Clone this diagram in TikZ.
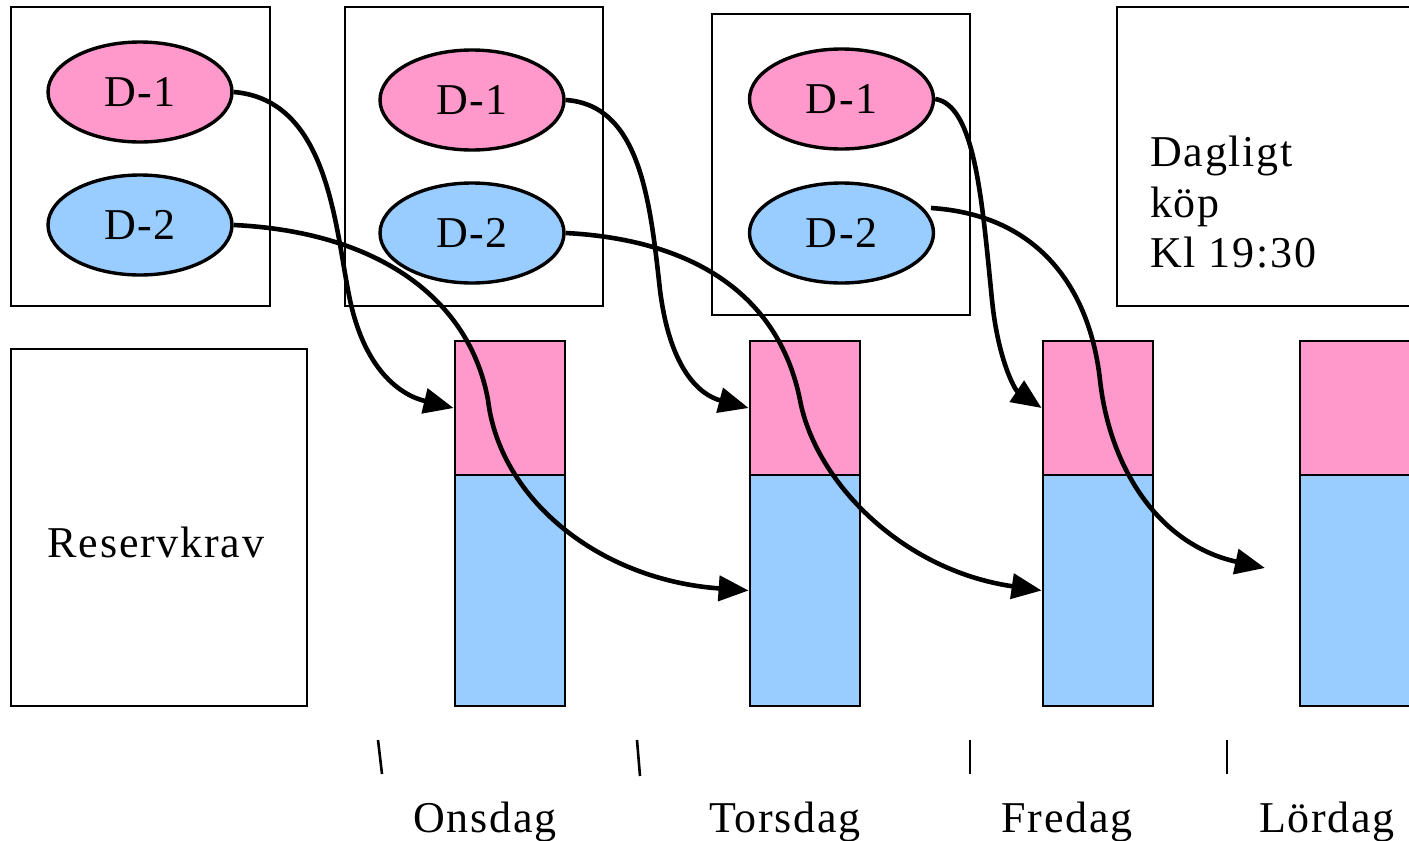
\documentclass[tikz,border=0pt]{standalone}
\usepackage{fontspec}
\setmainfont{Liberation Serif}[LetterSpace=4]
\usetikzlibrary{arrows.meta,shapes.geometric}
\definecolor{pinkf}{HTML}{FF99CC}
\definecolor{bluef}{HTML}{99CCFF}
\begin{document}
\begin{tikzpicture}[x=1pt,y=-1pt,
  lbl/.style={font=\fontsize{44}{50.5}\selectfont},
  frame/.style={draw,line width=2.8pt,inner sep=0},
  ell/.style={ellipse,draw,line width=3.4pt,minimum width=184pt,minimum height=100pt,inner sep=0,lbl},
  dA/.style={ell,fill=pinkf},
  dB/.style={ell,fill=bluef},
  barp/.style={draw,line width=2.8pt,fill=pinkf,minimum width=110pt,minimum height=134pt,inner sep=0},
  barb/.style={draw,line width=2.8pt,fill=bluef,minimum width=110pt,minimum height=231pt,inner sep=0},
  conn/.style={line width=4.6pt,-{Triangle[length=30pt,width=25pt]}},
  tick/.style={line width=2.6pt}
]
\useasboundingbox (0,0) rectangle (1409,841);
% day frames
\node[frame,minimum width=259pt,minimum height=299pt] (f1) at (140.5,156.5) {};
\node[frame,minimum width=258pt,minimum height=299pt] (f2) at (474,156.5) {};
\node[frame,minimum width=258pt,minimum height=301pt] (f3) at (841,164.5) {};
\node[frame,minimum width=295pt,minimum height=299pt] (f4) at (1264.5,156.5) {};
\node[lbl,anchor=north west,align=left,inner sep=0] (dag) at (1150,136) {Dagligt\\köp\\Kl 19:30};
% reserve box
\node[frame,minimum width=296pt,minimum height=357pt] (res) at (159,527.5) {};
\node[lbl,anchor=base] (restxt) at (156,557) {Reservkrav};
% ellipses
\node[dA] (a1) at (140,92) {D-1};
\node[dB] (b1) at (140,225) {D-2};
\node[dA] (a2) at (472,100) {D-1};
\node[dB] (b2) at (472,233) {D-2};
\node[dA] (a3) at (841.5,99) {D-1};
\node[dB] (b3) at (841.5,233) {D-2};
% bars
\node[barp] (p1) at (510,408) {};
\node[barb] (q1) at (510,590.5) {};
\node[barp] (p2) at (805,408) {};
\node[barb] (q2) at (805,590.5) {};
\node[barp] (p3) at (1098,408) {};
\node[barb] (q3) at (1098,590.5) {};
\node[barp] (p4) at (1355,408) {};
\node[barb] (q4) at (1355,590.5) {};
% connectors
\coordinate (s6) at (931,208);
\coordinate (t6) at (1265,568);
\draw[conn] (a1.east) .. controls (330,100) and (335,230) .. (350,300) .. controls (365,370) and (400,395) .. (p1.west);
\draw[conn] (b1.east) .. controls (380,232) and (470,300) .. (488,400) .. controls (500,500) and (600,580) .. (q2.west);
\draw[conn] (a2.east) .. controls (640,105) and (650,200) .. (660,290) .. controls (670,370) and (700,395) .. (p2.west);
\draw[conn] (b2.east) .. controls (700,240) and (780,300) .. (800,400) .. controls (815,480) and (900,570) .. (q3.west);
\draw[conn] (a3.east) .. controls (975,105) and (982,200) .. (992,300) .. controls (998,360) and (1015,390) .. (p3.west);
\draw[conn] (s6) .. controls (1040,215) and (1090,290) .. (1100,380) .. controls (1110,470) and (1160,545) .. (t6);
% ticks
\draw[tick] (378,740) -- (382,774);
\draw[tick] (637,740) -- (640,776);
\draw[tick] (970,740) -- (970,774);
\draw[tick] (1227,740) -- (1227,774);
% day labels
\node[lbl,anchor=base] (on) at (485,832) {Onsdag};
\node[lbl,anchor=base] (to) at (785,832) {Torsdag};
\node[lbl,anchor=base] (fr) at (1067,832) {Fredag};
\node[lbl,anchor=base] (lo) at (1327,832) {Lördag};
\end{tikzpicture}
\end{document}
